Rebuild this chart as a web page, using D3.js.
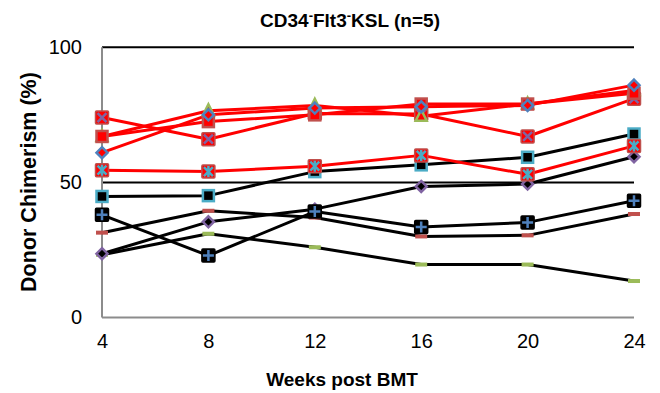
<!DOCTYPE html>
<html><head><meta charset="utf-8">
<script src="https://cdn.jsdelivr.net/npm/d3@7"></script>
<style>body{margin:0;background:#fff}svg{display:block}text{font-family:"Liberation Sans",Arial,sans-serif}</style>
</head><body>
<svg id="c" width="660" height="393"></svg>
<script>
const weeks = [4, 8, 12, 16, 20, 24];
const yTicks = [0, 50, 100];
const redDiamond  = [61, 75, 77.5, 78, 78.5, 86];
const redSquare   = [67, 72.5, 75, 79, 79, 83];
const redTriangle = [67, 76.5, 78.5, 74.5, 79, 84];
const redX        = [74, 66, 75.5, 75.3, 67, 81];
const redStar     = [54.5, 54, 56, 60, 53, 63.5];
const blackSquare    = [44.8, 45.1, 54, 56.5, 59.3, 67.9];
const blackPlus      = [38, 22.9, 39.2, 33.5, 35.2, 43.2];
const blackDashRed   = [31.4, 39.5, 37, 30, 30.4, 38.3];
const blackDiamond   = [23.6, 35.4, 40.1, 48.5, 49.4, 59.5];
const blackDashGreen = [23.2, 31, 26, 19.6, 19.6, 13.5];

const series = [
  {v: blackDashGreen, line: "#000", m: "dash", c: "#9BBB59"},
  {v: blackDiamond, line: "#000", m: "diamond", c: "#8064A2", fill: "#000"},
  {v: blackDashRed, line: "#000", m: "dash", c: "#C0504D"},
  {v: blackPlus, line: "#000", m: "plus", c: "#4F81BD", fill: "#000"},
  {v: blackSquare, line: "#000", m: "square", c: "#4BACC6", fill: "#000"},
  {v: redStar, line: "#FF0000", m: "star", c: "#4BACC6", fill: "#FF0000"},
  {v: redX, line: "#FF0000", m: "x", c: "#8064A2", fill: "#FF0000"},
  {v: redTriangle, line: "#FF0000", m: "triangle", c: "#9BBB59", fill: "#FF0000"},
  {v: redSquare, line: "#FF0000", m: "square", c: "#C0504D", fill: "#FF0000"},
  {v: redDiamond, line: "#FF0000", m: "diamond", c: "#4F81BD", fill: "#FF0000"}
];

const svg = d3.select("#c");
const x = d3.scaleLinear().domain([4, 24]).range([102, 634]);
const y = d3.scaleLinear().domain([0, 100]).range([317.5, 47.3]);

// gridlines
svg.append("g").selectAll("line").data(yTicks.filter(t => t > 0)).join("line")
  .attr("x1", x(4)).attr("x2", x(24)).attr("y1", d => y(d)).attr("y2", d => y(d))
  .attr("stroke", "#000").attr("stroke-width", 2);

// axes
const yAxis = svg.append("g").attr("transform", `translate(${x(4)},0)`)
  .call(d3.axisLeft(y).tickValues(yTicks).tickSize(0).tickPadding(20));
const xAxis = svg.append("g").attr("transform", `translate(0,${y(0)})`)
  .call(d3.axisBottom(x).tickValues(weeks).tickSize(0).tickPadding(16));
[yAxis, xAxis].forEach(a => {
  a.select(".domain").attr("stroke", "#8c8c8c").attr("stroke-width", 2);
  a.selectAll("text").attr("font-size", 20).attr("fill", "#000")
   .attr("font-family", '"Liberation Sans", Arial, sans-serif');
});
yAxis.select(".domain").attr("d", `M0,${y(100)}V${y(0)}`);
xAxis.select(".domain").attr("d", `M${x(4)},0H${x(24)}`);

// lines
const line = d3.line().x((d, i) => x(weeks[i])).y(d => y(d));
series.forEach(s => {
  svg.append("path").datum(s.v).attr("d", line).attr("fill", "none")
    .attr("stroke", s.line).attr("stroke-width", 3).attr("stroke-linejoin", "round");
});

// markers
function marker(g, s, cx, cy) {
  const h = 5.5;
  if (s.m === "dash") {
    g.append("rect").attr("x", cx - 6).attr("y", cy - 2).attr("width", 12).attr("height", 4).attr("fill", s.c);
  } else if (s.m === "diamond") {
    g.append("path").attr("d", `M${cx},${cy-h}L${cx+h},${cy}L${cx},${cy+h}L${cx-h},${cy}Z`)
      .attr("fill", s.fill).attr("stroke", s.c).attr("stroke-width", 2.5);
  } else if (s.m === "square") {
    g.append("rect").attr("x", cx - h).attr("y", cy - h).attr("width", 2*h).attr("height", 2*h)
      .attr("fill", s.fill).attr("stroke", s.c).attr("stroke-width", 2.5);
  } else if (s.m === "triangle") {
    g.append("path").attr("d", `M${cx},${cy-h-1}L${cx+h},${cy+h-1}L${cx-h},${cy+h-1}Z`)
      .attr("fill", s.fill).attr("stroke", s.c).attr("stroke-width", 2.5);
  } else {
    g.append("rect").attr("x", cx - h - 1).attr("y", cy - h - 1).attr("width", 2*h + 2).attr("height", 2*h + 2)
      .attr("rx", 1).attr("fill", s.fill).attr("stroke", s.fill === "#000" ? "#000" : "#C0504D").attr("stroke-width", 1.5);
    const p = d3.path();
    if (s.m === "plus") {
      p.moveTo(cx - h, cy); p.lineTo(cx + h, cy); p.moveTo(cx, cy - h); p.lineTo(cx, cy + h);
    } else {
      p.moveTo(cx - h + 1, cy - h + 1); p.lineTo(cx + h - 1, cy + h - 1);
      p.moveTo(cx + h - 1, cy - h + 1); p.lineTo(cx - h + 1, cy + h - 1);
      if (s.m === "star") { p.moveTo(cx, cy - h); p.lineTo(cx, cy + h); }
    }
    g.append("path").attr("d", p.toString()).attr("stroke", s.c).attr("stroke-width", 2.5).attr("fill", "none");
  }
}
series.forEach(s => {
  const g = svg.append("g");
  s.v.forEach((v, i) => marker(g, s, x(weeks[i]), y(v)));
});

// titles
const t = svg.append("text").attr("x", 350).attr("y", 27).attr("text-anchor", "middle")
  .attr("font-size", 19).attr("font-weight", "bold");
t.append("tspan").text("CD34");
t.append("tspan").attr("dy", -7).attr("font-size", 13).text("-");
t.append("tspan").attr("dy", 7).text("Flt3");
t.append("tspan").attr("dy", -7).attr("font-size", 13).text("-");
t.append("tspan").attr("dy", 7).text("KSL (n=5)");

svg.append("text").attr("x", 342).attr("y", 386).attr("text-anchor", "middle")
  .attr("font-size", 19).attr("font-weight", "bold").text("Weeks post BMT");
svg.append("text").attr("transform", "translate(36,182) rotate(-90)").attr("text-anchor", "middle")
  .attr("font-size", 21.5).attr("font-weight", "bold").text("Donor Chimerism (%)");
</script>
</body></html>
